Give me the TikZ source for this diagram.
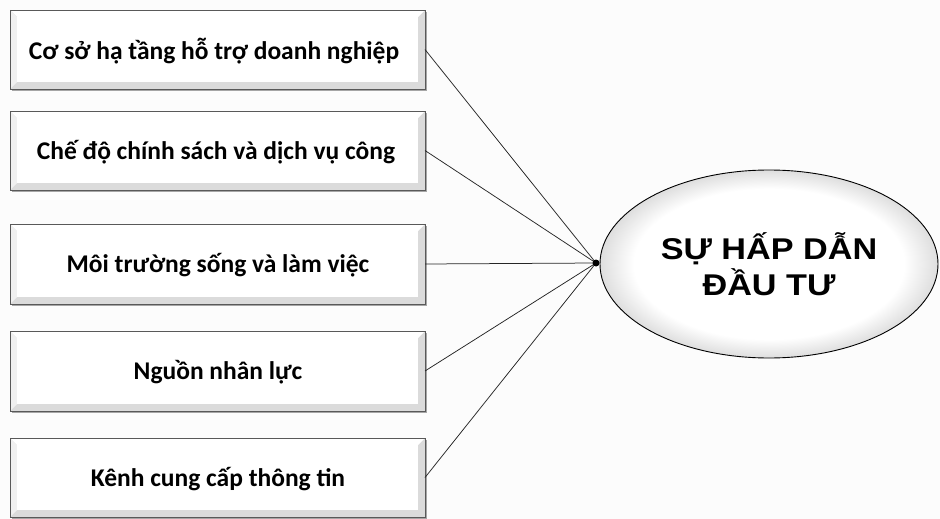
\documentclass[tikz,border=0pt]{standalone}
\usepackage{fontspec}
\setmainfont{Carlito}
\newfontfamily\arialfont[FakeStretch=1.14]{Liberation Sans}
\usetikzlibrary{shapes.geometric}
\pgfdeclareradialshading{ellshade}{\pgfpoint{0bp}{0bp}}{color(0bp)=(white); color(20bp)=(white); color(25bp)=(black!13); color(50bp)=(black!13)}
\begin{document}
\begin{tikzpicture}[x=1pt,y=-1pt,
  boxtext/.style={font=\bfseries\fontsize{25.5}{28}\selectfont, anchor=center, inner sep=0},
  conn/.style={draw=black!85, line width=0.75pt}]
\useasboundingbox (0,0) rectangle (940,519);
\fill[black!1] (0,0) rectangle (940,519);
% bevel boxes
\foreach \i/\t/\b in {1/10/89, 2/111/190, 3/224/304, 4/331/411, 5/438/517}{
  \fill[black!35] (12,\t+2) rectangle (427,\b+2);
  \fill[black!14] (10,\t) rectangle (425,\b);
  \fill[white] (10,\t) -- (425,\t) -- (418,\t+7) -- (17,\t+7) -- cycle;
  \fill[black!6] (10,\t) -- (17,\t+7) -- (17,\b-7) -- (10,\b) -- cycle;
  \fill[white] (17,\t+7) rectangle (418,\b-7);
  \draw[black!65, line width=0.9pt] (10,\t) rectangle (425,\b);
  \coordinate (r\i) at (425,{(\t+\b)/2});
}
\node[boxtext] (b1) at (214,51) {Cơ sở hạ tầng hỗ trợ doanh nghiệp};
\node[boxtext] (b2) at (216,152) {Chế độ chính sách và dịch vụ công};
\node[boxtext] (b3) at (218,265) {Môi trường sống và làm việc};
\node[boxtext] (b4) at (218,372) {Nguồn nhân lực};
\node[boxtext] (b5) at (218,479) {Kênh cung cấp thông tin};
% ellipse
\node[ellipse, minimum width=338, minimum height=188, inner sep=0,
      shading=ellshade, draw=black, line width=0.9pt,
      align=center, font=\arialfont\bfseries\fontsize{30}{36}\selectfont]
      (e) at (769,264) {SỰ HẤP DẪN\\ĐẦU TƯ};
\coordinate (hub) at (596,263);
\foreach \i in {1,...,5}{ \draw[conn] (r\i) -- (hub); }
\fill[black] (hub) circle (3.5);
\end{tikzpicture}
\end{document}
